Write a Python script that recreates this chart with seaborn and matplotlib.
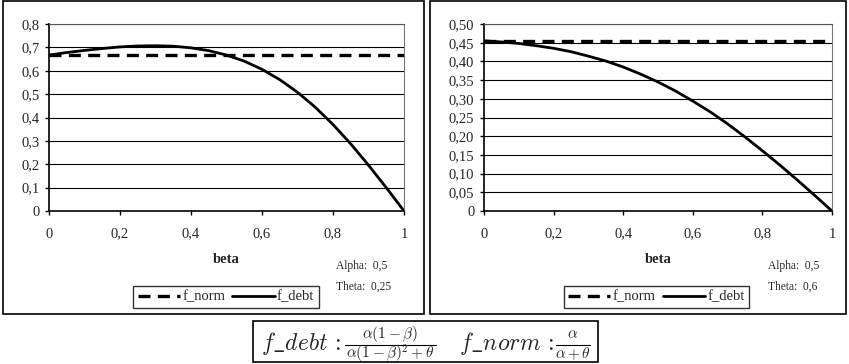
import numpy as np
import pandas as pd
import matplotlib
matplotlib.use("Agg")
import matplotlib.pyplot as plt
from matplotlib.patches import Rectangle
from matplotlib.lines import Line2D
import seaborn as sns

# ---- data ----
beta = [0.0, 0.05, 0.1, 0.15, 0.2, 0.25, 0.3, 0.35, 0.4, 0.45, 0.5,
        0.55, 0.6, 0.65, 0.7, 0.75, 0.8, 0.85, 0.9, 0.95, 1.0]
left_f_debt = [0.667, 0.678, 0.687, 0.695, 0.702, 0.706, 0.707, 0.705, 0.698, 0.686, 0.667,
               0.641, 0.606, 0.562, 0.508, 0.444, 0.370, 0.287, 0.196, 0.100, 0.0]
left_f_norm = [0.667] * 21
right_f_debt = [0.455, 0.452, 0.448, 0.442, 0.435, 0.426, 0.414, 0.401, 0.385, 0.366, 0.345,
                0.321, 0.294, 0.265, 0.233, 0.198, 0.161, 0.123, 0.083, 0.042, 0.0]
right_f_norm = [0.455] * 21

left_yticks = [0, 0.1, 0.2, 0.3, 0.4, 0.5, 0.6, 0.7, 0.8]
left_ylabels = ["0", "0,1", "0,2", "0,3", "0,4", "0,5", "0,6", "0,7", "0,8"]
right_yticks = [0, 0.05, 0.1, 0.15, 0.2, 0.25, 0.3, 0.35, 0.4, 0.45, 0.5]
right_ylabels = ["0", "0,05", "0,10", "0,15", "0,20", "0,25", "0,30", "0,35", "0,40", "0,45", "0,50"]
xticks = [0, 0.2, 0.4, 0.6, 0.8, 1.0]
xlabels = ["0", "0,2", "0,4", "0,6", "0,8", "1"]
left_params = ["Alpha:  0,5", "Theta:  0,25"]
right_params = ["Alpha:  0,5", "Theta:  0,6"]

sns.set_theme(style="white")
plt.rcParams["font.family"] = ["Liberation Serif", "DejaVu Serif"]
plt.rcParams["mathtext.fontset"] = "cm"

W, H = 849, 364
fig = plt.figure(figsize=(W / 100, H / 100), dpi=100)


def fx(px):
    return px / W


def fy(py):
    return 1 - py / H


# outer boxes
for (x0, y0, x1, y1) in [(3, 1, 424, 314), (430, 1, 846, 314), (253, 321, 598, 362)]:
    fig.add_artist(Rectangle((fx(x0), fy(y1)), fx(x1) - fx(x0), fy(y0) - fy(y1),
                             transform=fig.transFigure, fill=False,
                             edgecolor="black", linewidth=1.2))

DASH = (0, (3.6, 2.2))


def panel(xpix, yticks, ylabels, f_norm, f_debt, params, ptxt_x, leg_x0, leg_x1):
    ax = fig.add_axes([fx(xpix[0]), fy(211), fx(xpix[1]) - fx(xpix[0]), fy(24) - fy(211)])
    df = pd.DataFrame({
        "beta": beta * 2,
        "value": list(f_norm) + list(f_debt),
        "series": ["f_norm"] * len(beta) + ["f_debt"] * len(beta),
    })
    sns.lineplot(data=df[df.series == "f_norm"], x="beta", y="value", ax=ax,
                 color="black", linewidth=2.4, linestyle=DASH, label="f_norm")
    sns.lineplot(data=df[df.series == "f_debt"], x="beta", y="value", ax=ax,
                 color="black", linewidth=2.0, label="f_debt")
    ax.set_xlim(0, 1)
    ax.set_ylim(yticks[0], yticks[-1])
    ax.set_xticks(xticks)
    ax.set_xticklabels(xlabels, fontsize=10.5)
    ax.set_yticks(yticks)
    ax.set_yticklabels(ylabels, fontsize=10.5)
    ax.tick_params(axis="both", direction="out", length=3, width=1, color="black",
                   bottom=True, left=True, pad=4)
    ax.tick_params(axis="x", pad=9)
    for y in yticks[1:]:
        ax.axhline(y, color="black", linewidth=0.8, zorder=0)
    ax.spines["left"].set_color("black")
    ax.spines["bottom"].set_color("black")
    ax.spines["left"].set_linewidth(1.2)
    ax.spines["bottom"].set_linewidth(1.2)
    ax.spines["top"].set_color("#555555")
    ax.spines["right"].set_color("#777777")
    ax.spines["top"].set_linewidth(0.8)
    ax.spines["right"].set_linewidth(0.8)
    ax.set_xlabel("beta", fontsize=10.5, fontweight="bold", labelpad=9)
    ax.set_ylabel("")
    ax.legend_.remove()
    h = [Line2D([], [], color="black", linewidth=2.4, linestyle=DASH),
         Line2D([], [], color="black", linewidth=2.0)]
    l = ["f_norm", "f_debt"]
    leg = fig.legend(h, l, loc="center", ncol=2, frameon=True, fancybox=False,
                     bbox_to_anchor=((fx(leg_x0) + fx(leg_x1)) / 2, fy(297)),
                     fontsize=10.5, handlelength=2.9, handletextpad=0.15,
                     columnspacing=0.5, borderpad=0.3, edgecolor="black")
    leg.get_frame().set_linewidth(1.0)
    fig.text(fx(ptxt_x), fy(266), params[0], fontsize=8.3, va="center")
    fig.text(fx(ptxt_x), fy(287), params[1], fontsize=8.3, va="center")
    return ax


panel((49, 404), left_yticks, left_ylabels, left_f_norm, left_f_debt, left_params, 336, 133, 319)
panel((484, 832), right_yticks, right_ylabels, right_f_norm, right_f_debt, right_params, 768, 563, 750)

# formula box content
FS = 17
FF = 11
fig.text(fx(261), fy(350), r"$f\_debt\,:$", fontsize=FS, ha="left", va="baseline")
fig.text(fx(390), fy(338), r"$\alpha(1-\beta)$", fontsize=FF, ha="center", va="baseline")
fig.text(fx(390), fy(358.5), r"$\alpha(1-\beta)^2+\theta$", fontsize=FF, ha="center", va="baseline")
fig.add_artist(Line2D([fx(345), fx(436)], [fy(344.5), fy(344.5)], transform=fig.transFigure,
                      color="black", linewidth=0.8))
fig.text(fx(459), fy(350), r"$f\_norm\,:$", fontsize=FS, ha="left", va="baseline")
fig.text(fx(573), fy(338), r"$\alpha$", fontsize=FF, ha="center", va="baseline")
fig.text(fx(573), fy(358.5), r"$\alpha+\theta$", fontsize=FF, ha="center", va="baseline")
fig.add_artist(Line2D([fx(556), fx(590)], [fy(344.5), fy(344.5)], transform=fig.transFigure,
                      color="black", linewidth=0.8))

fig.savefig("out.png", dpi=100)
